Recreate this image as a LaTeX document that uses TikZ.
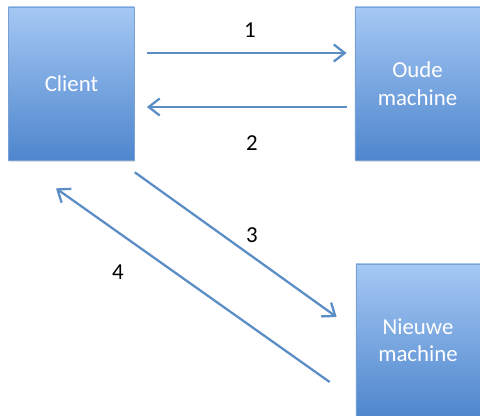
\documentclass[tikz,border=0pt]{standalone}
\usepackage{fontspec}
\setmainfont{Carlito}
\usepackage{tikz}
\usetikzlibrary{arrows.meta,shadows}
\definecolor{boxtop}{RGB}{165,200,244}
\definecolor{boxbottom}{RGB}{78,134,205}
\definecolor{boxline}{RGB}{120,160,212}
\definecolor{arrowblue}{RGB}{92,142,198}
\begin{document}
\begin{tikzpicture}
\tikzstyle{machine}=[draw=boxline, line width=0.4pt, top color=boxtop, bottom color=boxbottom, minimum width=2.52cm, minimum height=3.06cm, text=white, align=center, font=\fontsize{13}{15.6}\selectfont, drop shadow={shadow xshift=0.5pt, shadow yshift=-1pt, opacity=0.25}]
\tikzstyle{msg}=[draw=arrowblue, line width=1.3pt, -{Straight Barb[length=2.2mm, width=3.4mm, line width=1.3pt]}]
\tikzstyle{num}=[font=\fontsize{13}{15.6}\selectfont, text=black]
\useasboundingbox (0,0) rectangle (9.6,-8.32);
\node [machine] (client) at (1.43,-1.67) {Client};
\node [machine, minimum width=2.5cm] (oude) at (8.35,-1.67) {Oude\\machine};
\node [machine, minimum width=2.48cm] (nieuwe) at (8.36,-6.81) {Nieuwe\\machine};
\draw [msg, shorten <=0.24cm, shorten >=0.16cm] ([yshift=0.61cm]client.east) -- ([yshift=0.61cm]oude.west);
\draw [msg, shorten <=0.16cm, shorten >=0.24cm] ([yshift=-0.47cm]oude.west) -- ([yshift=-0.47cm]client.east);
\draw [msg] ([yshift=-0.24cm]client.south east) -- ([xshift=-0.38cm,yshift=0.47cm]nieuwe.west);
\draw [msg] ([xshift=-0.52cm,yshift=-0.83cm]nieuwe.west) -- ([xshift=-0.31cm,yshift=-0.56cm]client.south);
\node [num] (one) at (5.0,-0.6) {1};
\node [num] (two) at (5.04,-2.86) {2};
\node [num] (three) at (5.04,-4.7) {3};
\node [num] (four) at (2.36,-5.44) {4};
\end{tikzpicture}
\end{document}
